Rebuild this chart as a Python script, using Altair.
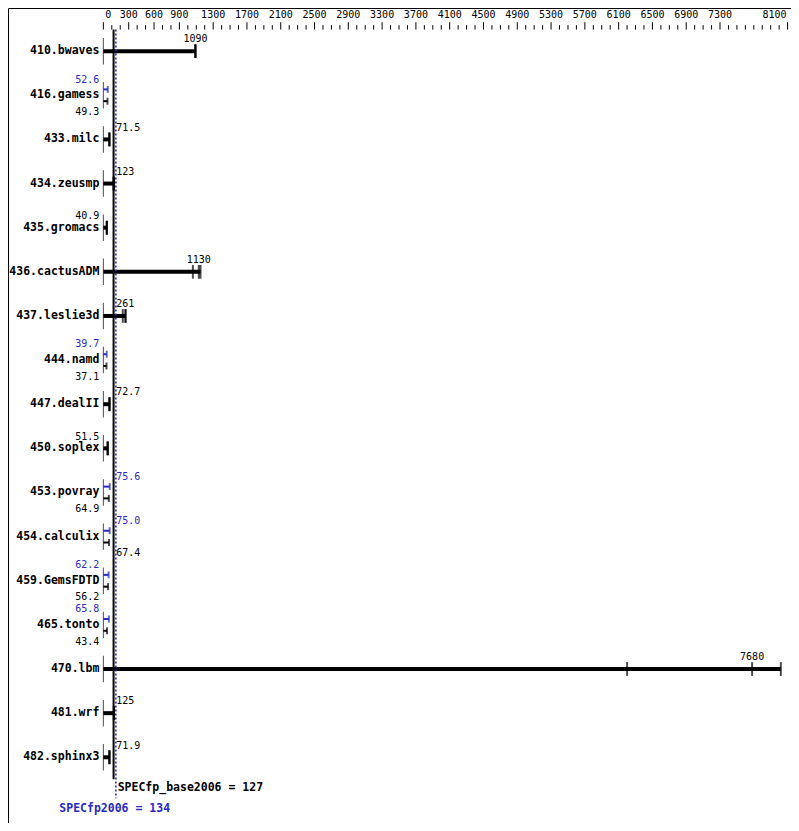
import altair as alt
import pandas as pd

# ---------------- data ----------------
benchmarks = ["410.bwaves", "416.gamess", "433.milc", "434.zeusmp", "435.gromacs",
              "436.cactusADM", "437.leslie3d", "444.namd", "447.dealII", "450.soplex",
              "453.povray", "454.calculix", "459.GemsFDTD", "465.tonto", "470.lbm",
              "481.wrf", "482.sphinx3"]
base_ratio = [1090, 49.3, 71.5, 123, 40.9, 1130, 261, 37.1, 72.7, 51.5,
              64.9, 67.4, 56.2, 43.4, 7680, 125, 71.9]
peak_ratio = [None, 52.6, None, None, None, None, None, 39.7, None, None,
              75.6, 75.0, 62.2, 65.8, None, None, None]
base_run_low = [1090, 49.3, 71.5, 123, 40.9, 1060, 230, 37.1, 72.7, 51.5,
                64.9, 67.4, 56.2, 43.4, 6200, 125, 71.9]
base_run_high = [1090, 49.3, 71.5, 123, 40.9, 1150, 264, 37.1, 72.7, 51.5,
                 64.9, 67.4, 56.2, 43.4, 8020, 125, 71.9]
axis_labels = [0, 300, 600, 900, 1300, 1700, 2100, 2500, 2900, 3300, 3700, 4100,
               4500, 4900, 5300, 5700, 6100, 6500, 6900, 7300, 8100]
axis_step = 100
axis_max = 8100
spec_base = 127
spec_peak = 134
spec_base_text = "SPECfp_base2006 = 127"
spec_peak_text = "SPECfp2006 = 134"

# ---------------- layout ----------------
W, H = 783, 815
SX, SY = W / 799, H / 831
ZERO_PX = 97.3 * SX
PPU = 0.0862 * SX
XMIN = -ZERO_PX / PPU
XMAX = XMIN + W / PPU
ROW0 = 44 * SY
STEP = 45 * SY
YMIN = -ROW0 / STEP
YMAX = YMIN + H / STEP

BLUE = "#2a2ac4"
MONO = "DejaVu Sans Mono"
n = len(benchmarks)

xs = alt.Scale(domain=[XMIN, XMAX], nice=False, zero=False)
ys = alt.Scale(domain=[YMIN, YMAX], nice=False, zero=False, reverse=True)


def X(f):
    return alt.X(f"{f}:Q", scale=xs, axis=None)


def Y(f):
    return alt.Y(f"{f}:Q", scale=ys, axis=None)


rows = pd.DataFrame({
    "row": list(range(n)),
    "name": benchmarks,
    "base": base_ratio,
    "peak": peak_ratio,
    "low": base_run_low,
    "high": base_run_high,
})
rows["zero"] = 0.0
rows["has_peak"] = rows["peak"].notna()
single = rows[~rows["has_peak"]]
double = rows[rows["has_peak"]]

layers = []

# row start markers
layers.append(alt.Chart(rows).mark_tick(orient="vertical", size=27 * SY, thickness=1, color="black")
              .encode(x=X("zero"), y=Y("row")))

# single bars (thick) to highest run
layers.append(alt.Chart(single).mark_rule(strokeWidth=4, color="black", strokeCap="butt")
              .encode(x=X("zero"), x2="high:Q", y=Y("row")))

# run ticks for single rows
runs = pd.concat([
    single[["row", "low"]].rename(columns={"low": "v"}),
    single[["row", "base"]].rename(columns={"base": "v"}),
    single[["row", "high"]].rename(columns={"high": "v"}),
])
layers.append(alt.Chart(runs).mark_tick(orient="vertical", size=14 * SY, thickness=2, color="black")
              .encode(x=X("v"), y=Y("row")))

# double rows: peak (blue, above), base (black, below)
layers.append(alt.Chart(double).mark_rule(strokeWidth=2, color=BLUE, yOffset=-6 * SY, strokeCap="butt")
              .encode(x=X("zero"), x2="peak:Q", y=Y("row")))
layers.append(alt.Chart(double).mark_tick(orient="vertical", size=7, thickness=2, color=BLUE, yOffset=-6 * SY)
              .encode(x=X("peak"), y=Y("row")))
layers.append(alt.Chart(double).mark_rule(strokeWidth=2, color="black", yOffset=6 * SY, strokeCap="butt")
              .encode(x=X("zero"), x2="base:Q", y=Y("row")))
layers.append(alt.Chart(double).mark_tick(orient="vertical", size=7, thickness=2, color="black", yOffset=6 * SY)
              .encode(x=X("base"), y=Y("row")))

# summary lines
lines = pd.DataFrame({"base": [spec_base], "peak": [spec_peak],
                      "top": [-0.49], "bb": [n - 0.5], "pb": [n - 0.07]})
layers.append(alt.Chart(lines).mark_rule(strokeWidth=2, color="black", xOffset=-0.5)
              .encode(x=X("base"), y=Y("top"), y2="bb:Q"))
layers.append(alt.Chart(lines).mark_rule(strokeWidth=1.6, color=BLUE, strokeDash=[2, 2], xOffset=1.2)
              .encode(x=X("peak"), y=Y("top"), y2="pb:Q"))

# top axis ticks and labels
ticks = pd.DataFrame({"v": list(range(0, axis_max + 1, axis_step))})
ticks["major"] = ticks["v"].isin(axis_labels)
layers.append(alt.Chart(ticks[~ticks["major"]]).mark_rule(color="black", strokeWidth=1)
              .encode(x=X("v"), y=alt.value(17.5 * SY), y2=alt.value(22 * SY)))
layers.append(alt.Chart(ticks[ticks["major"]]).mark_rule(color="black", strokeWidth=1)
              .encode(x=X("v"), y=alt.value(14.5 * SY), y2=alt.value(22 * SY)))
labs = pd.DataFrame({"v": axis_labels, "t": [str(a) for a in axis_labels]})
first, last = labs.iloc[[0]], labs.iloc[[-1]]
mid = labs.iloc[1:-1]
for sub, align, dx in ((first, "left", 2), (mid, "center", 0), (last, "right", -1)):
    layers.append(alt.Chart(sub).mark_text(font=MONO, fontSize=10, color="black", baseline="middle",
                                           align=align, dx=dx)
                  .encode(x=X("v"), y=alt.value(7 * SY), text="t:N"))

# row names
layers.append(alt.Chart(rows).mark_text(font=MONO, fontSize=11.5, fontWeight="bold", color="black",
                                        align="right", baseline="middle", dx=-4)
              .encode(x=X("zero"), y=Y("row"), text="name:N"))

# value labels
recs = []
for r in rows.itertuples():
    items = []
    if r.has_peak:
        items.append((r.peak, BLUE, "peak"))
        items.append((r.base, "black", "base2"))
    else:
        items.append((r.base, "black", "single"))
    for val, col, kind in items:
        txt = f"{val:.1f}" if val < 100 else f"{val:.0f}"
        half = len(txt) * 6.0 / 2 / PPU
        if val < 66:
            align, xv = "right", 0.0
        elif val - half >= spec_peak + 2.5 / PPU:
            align, xv = "center", val
        else:
            align, xv = "left", spec_peak
        recs.append({"row": r.row, "x": xv, "t": txt, "c": col, "kind": kind, "align": align})
vl = pd.DataFrame(recs)
dys = {"single": -12 * SY, "peak": -16 * SY, "base2": 17 * SY}
dxs = {"right": -4, "left": 1.5, "center": 0}
for kind, dy in dys.items():
    for align, dx in dxs.items():
        sub = vl[(vl["kind"] == kind) & (vl["align"] == align)]
        if len(sub) == 0:
            continue
        layers.append(alt.Chart(sub).mark_text(font=MONO, fontSize=10, baseline="middle",
                                               align=align, dx=dx, dy=dy)
                      .encode(x=X("x"), y=Y("row"), text="t:N",
                              color=alt.Color("c:N", scale=None)))

# bottom summary texts
summ = pd.DataFrame({"base": [spec_base], "peak": [spec_peak],
                     "yb": [n - 0.31], "yp": [n + 0.18],
                     "tb": [spec_base_text], "tp": [spec_peak_text]})
layers.append(alt.Chart(summ).mark_text(font=MONO, fontSize=11.5, fontWeight="bold", color="black",
                                        align="left", baseline="middle", dx=3)
              .encode(x=X("peak"), y=Y("yb"), text="tb:N"))
layers.append(alt.Chart(summ).mark_text(font=MONO, fontSize=11.5, fontWeight="bold", color=BLUE,
                                        align="center", baseline="middle")
              .encode(x=X("peak"), y=Y("yp"), text="tp:N"))

chart = alt.layer(*layers).properties(
    width=W, height=H, padding=0, autosize=alt.AutoSizeParams(type="none"), background="white"
).configure_view(stroke="black", strokeWidth=1)

chart.save("out.html", embed_options={"renderer": "svg", "actions": False})
